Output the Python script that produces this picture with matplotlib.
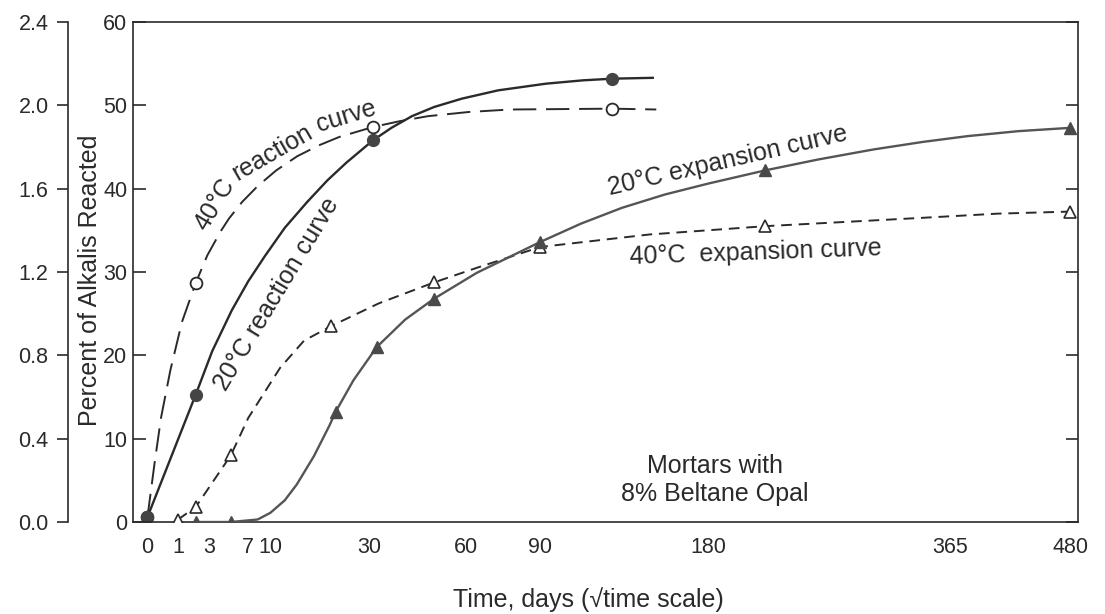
import numpy as np
import matplotlib.pyplot as plt

plt.rcParams['font.family'] = ['Liberation Sans', 'DejaVu Sans']

# ---- data (time in days) ----
# percent of alkalis reacted, 20 C (solid curve) and 40 C (long dashes)
r20_t = [0.08, 2, 3.24, 5.1, 7.0, 9.2, 12.25, 16.2, 20.25, 24.4, 31, 36, 42, 49, 58.5, 72.3,
         92.6, 110, 125, 147]
r20_v = [0.6, 15.3, 20.5, 25.4, 28.9, 31.9, 35.3, 38.4, 41.0, 43.1, 45.8, 47.3, 48.7, 49.8, 50.8,
         51.8, 52.6, 53.0, 53.2, 53.3]
r20_mt = [0.08, 2, 31, 125]
r20_mv = [0.6, 15.3, 45.8, 53.2]

r40_t = [0.08, 0.2, 0.36, 0.67, 1.19, 2, 2.84, 4, 4.8, 6.25, 8.2, 10.9, 14.4, 18.5, 22.8, 31,
         38.4, 47, 61, 77, 125, 149]
r40_v = [0.6, 7.0, 12.5, 18.2, 24.0, 28.7, 32.0, 34.9, 36.4, 38.4, 40.3, 42.2, 43.9, 45.2, 46.2,
         47.4, 48.1, 48.7, 49.2, 49.5, 49.6, 49.5]
r40_mt = [0.08, 2, 31, 125]
r40_mv = [0.6, 28.7, 47.4, 49.6]

# percent expansion, 20 C (solid) and 40 C (short dashes)
e20_t = [2, 5, 8.2, 10, 12.25, 14.3, 17.5, 20.7, 22, 26.1, 32, 40, 49, 64, 90, 109, 130, 154,
         180, 218, 256, 299, 340, 380, 428, 480]
e20_v = [0, 0, 0.012, 0.044, 0.104, 0.18, 0.316, 0.464, 0.528, 0.68, 0.84, 0.972, 1.072, 1.196,
         1.344, 1.432, 1.508, 1.572, 1.624, 1.688, 1.74, 1.788, 1.824, 1.852, 1.876, 1.892]
e20_mt = [2, 5, 22, 32, 49, 90, 218, 480]
e20_mv = [0.0, 0.0, 0.528, 0.84, 1.072, 1.344, 1.688, 1.892]

e40_t = [1, 2, 5, 7, 11.5, 15.6, 21, 32.6, 49, 64, 90, 145, 218, 340, 408, 480]
e40_v = [0.012, 0.072, 0.32, 0.50, 0.74, 0.87, 0.94, 1.05, 1.15, 1.22, 1.32, 1.38, 1.42, 1.46,
         1.48, 1.49]
e40_mt = [1, 2, 5, 21, 49, 90, 218, 480]
e40_mv = [0.012, 0.072, 0.32, 0.94, 1.15, 1.32, 1.42, 1.49]

xtick_pos = [0.08, 1, 3, 7, 10, 30, 60, 90, 180, 365, 480]
xtick_lab = ['0', '1', '3', '7', '10', '30', '60', '90', '180', '365', '480']
xmark_pos = [1, 3, 7, 10, 30, 60, 90, 180, 365]


def fwd(t):
    t = np.asarray(t, dtype=float)
    return np.sign(t) * np.sqrt(np.abs(t))


def inv(s):
    s = np.asarray(s, dtype=float)
    return np.sign(s) * s ** 2


ink = '#2a2a2a'
fig = plt.figure(figsize=(11.05, 6.14), dpi=100)
ax = fig.add_axes([133 / 1105, 92 / 614, 945 / 1105, 500 / 614])
ax.set_xscale('function', functions=(fwd, inv))
ax.set_xlim(-0.0032, 488)
ax.set_ylim(0, 60)

# reaction curves
ax.plot(r40_t, r40_v, color=ink, lw=1.4, dashes=(12, 5))
ax.plot(r40_mt, r40_mv, 'o', ms=8.5, mfc='white', mec=ink, mew=1.3)
ax.plot(r20_t, r20_v, color=ink, lw=1.7)
ax.plot(r20_mt, r20_mv, 'o', ms=8.5, mfc='#444444', mec='#444444')

# expansion axis (outer left scale)
ax2 = ax.twinx()
ax2.set_ylim(0, 2.4)
for s in ['right', 'top', 'bottom']:
    ax2.spines[s].set_visible(False)
ax2.spines['left'].set_visible(True)
ax2.spines['left'].set_position(('outward', 65 * 0.72))
ax2.spines['left'].set_linewidth(1.2)
ax2.spines['left'].set_color(ink)
ax2.yaxis.set_ticks_position('left')
ax2.set_yticks(np.arange(0, 2.41, 0.4))
ax2.yaxis.set_major_formatter('{x:.1f}')
ax2.tick_params(axis='y', direction='out', length=8, width=1.2, pad=6,
                labelsize=15.5, colors=ink)

ax2.plot(e40_t, e40_v, color=ink, lw=1.4, dashes=(5.5, 3.5))
ax2.plot(e40_mt, e40_mv, '^', ms=8.5, mfc='white', mec=ink, mew=1.2)
ax2.plot(e20_t, e20_v, color='#555555', lw=1.7)
ax2.plot(e20_mt, e20_mv, '^', ms=9, mfc='#4a4a4a', mec='#4a4a4a')

# main axis cosmetics
for s in ax.spines.values():
    s.set_linewidth(1.2)
    s.set_color(ink)
ax.set_yticks(range(0, 61, 10))
ax.tick_params(axis='y', direction='in', length=9, width=1.2, pad=4,
               labelsize=15.5, right=True, colors=ink)
ax.set_xticks(xtick_pos, xtick_lab)
ax.tick_params(axis='x', which='major', length=0, pad=11, labelsize=15.5, colors=ink)
ax.set_xticks(xmark_pos, minor=True)
ax.tick_params(axis='x', which='minor', direction='in', length=7, width=1.2,
               top=True, bottom=True, colors=ink)

# labels
fig.text(90 / 1105, 1 - 280 / 614, 'Percent of Alkalis Reacted', rotation=90,
         ha='center', va='center', fontsize=18, color=ink)
fig.text(588 / 1105, 1 - 600 / 614, 'Time, days (\u221atime scale)',
         ha='center', va='center', fontsize=18, color=ink)

# curve annotations
kw = dict(transform=ax.transAxes, ha='center', va='center', fontsize=18,
          color=ink, rotation_mode='anchor')
ax.text(0.0868, 0.636, '40°C', rotation=59, **kw)
ax.text(0.147, 0.738, 'reaction', rotation=30, **kw)
ax.text(0.2254, 0.812, 'curve', rotation=17, **kw)
ax.text(0.1524, 0.455, '20°C reaction curve', rotation=59, **kw)
ax.text(0.6296, 0.723, '20°C expansion curve', rotation=13, **kw)
ax.text(0.659, 0.538, '40°C  expansion curve', rotation=2, **kw)
ax.text(0.616, 0.084, 'Mortars with\n8% Beltane Opal', linespacing=1.25, **kw)

fig.savefig('out.png', dpi=100)
